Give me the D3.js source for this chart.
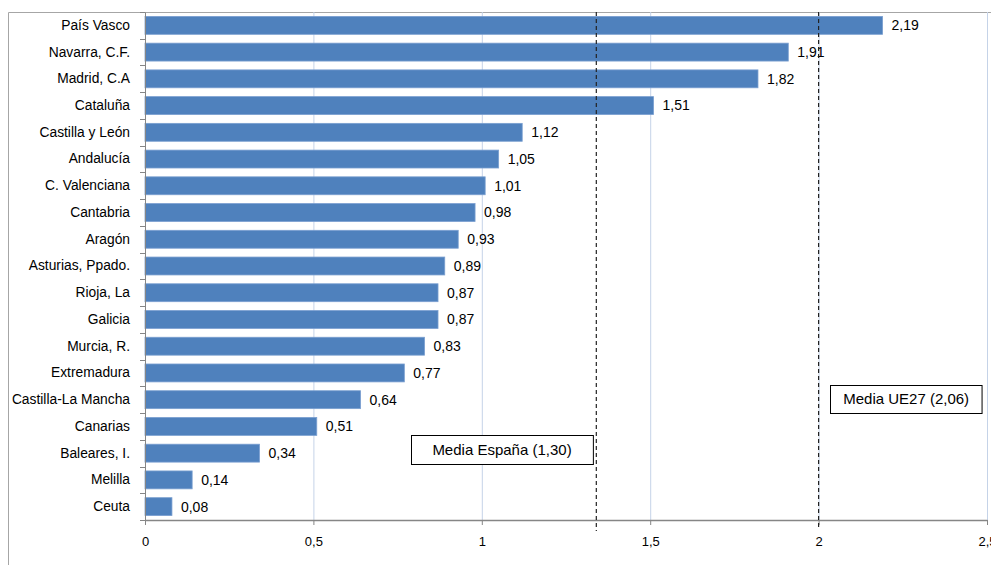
<!DOCTYPE html>
<html><head><meta charset="utf-8">
<script src="https://cdn.jsdelivr.net/npm/d3@7"></script>
<style>body{margin:0;background:#fff}svg{display:block}text{font-family:"Liberation Sans","DejaVu Sans",sans-serif}</style>
</head><body><svg id="c" width="991" height="565"></svg>
<script>
const categories = ["País Vasco","Navarra, C.F.","Madrid, C.A","Cataluña","Castilla y León","Andalucía","C. Valenciana","Cantabria","Aragón","Asturias, Ppado.","Rioja, La","Galicia","Murcia, R.","Extremadura","Castilla-La Mancha","Canarias","Baleares, I.","Melilla","Ceuta"];
const values = [2.19,1.91,1.82,1.51,1.12,1.05,1.01,0.98,0.93,0.89,0.87,0.87,0.83,0.77,0.64,0.51,0.34,0.14,0.08];
const xTicks = [0,0.5,1,1.5,2,2.5];
const refLines = [1.34, 2.0];
const refLabels = ["Media España (1,30)","Media UE27 (2,06)"];

const svg = d3.select("#c");
const m = {left:145, right:987, top:12, bottom:520};
const x = d3.scaleLinear().domain([0,2.5]).range([m.left, m.right]);
const y = d3.scaleBand().domain(categories).range([m.top, m.bottom]).paddingInner(0.33).paddingOuter(0.165);
const fmt = v => d3.format(".2f")(v).replace(".", ",");
const tfmt = v => String(v).replace(".", ",");

// outer chart border (top & left)
svg.append("path").attr("d", `M8.5,565 V12.5 H991`).attr("fill","none").attr("stroke","#a6a6a6").attr("stroke-width",1);

// gridlines
svg.append("g").selectAll("line").data(xTicks.filter(d=>d>0)).join("line")
  .attr("x1", d=>x(d)+0.5).attr("x2", d=>x(d)+0.5).attr("y1", m.top).attr("y2", m.bottom)
  .attr("stroke","#c5d3e8").attr("stroke-width",1);

// bars
svg.append("g").selectAll("rect").data(values).join("rect")
  .attr("x", x(0)).attr("y", (d,i)=>y(categories[i]))
  .attr("width", d=>x(d)-x(0)).attr("height", y.bandwidth())
  .attr("fill","#4f81bd").attr("stroke","#7a9fd0").attr("stroke-width",0.8);

// value labels
svg.append("g").selectAll("text").data(values).join("text")
  .attr("x", d=>x(d)+9).attr("y", (d,i)=>y(categories[i])+y.bandwidth()/2)
  .attr("dy","0.35em").attr("font-size",14).attr("fill","#000").text(d=>fmt(d));

// y axis
const ya = d3.axisLeft(y).tickSize(0).tickPadding(15);
const yg = svg.append("g").attr("transform",`translate(${m.left},0)`).call(ya);
yg.select(".domain").attr("stroke","#868686");
yg.selectAll("text").attr("font-size",13.8).attr("fill","#000");
// y tick marks at category boundaries
const bounds = d3.range(categories.length+1).map(i => m.top + i*(m.bottom-m.top)/categories.length);
svg.append("g").selectAll("line").data(bounds).join("line")
  .attr("x1", m.left-5).attr("x2", m.left).attr("y1", d=>Math.round(d)+0.5).attr("y2", d=>Math.round(d)+0.5)
  .attr("stroke","#868686");

// x axis
const xa = d3.axisBottom(x).tickValues(xTicks).tickFormat(tfmt).tickSizeInner(5).tickSizeOuter(0).tickPadding(12);
const xg = svg.append("g").attr("transform",`translate(0,${m.bottom})`).call(xa);
xg.select(".domain").attr("stroke","#868686").attr("stroke-width",1.5);
xg.selectAll(".tick line").attr("stroke","#868686");
xg.selectAll("text").attr("font-size",13).attr("fill","#000");

// reference dashed lines
svg.append("g").selectAll("line").data(refLines).join("line")
  .attr("x1", d=>x(d)).attr("x2", d=>x(d)).attr("y1", m.top).attr("y2", (d,i)=> i===0 ? 531 : 527)
  .attr("stroke","#222").attr("stroke-width",1.2).attr("stroke-dasharray","4,3");

// reference labels boxes
const boxes = [
  {x0: x(0.79), x1: x(1.33), y0: 435, y1: 464},
  {x0: x(2.035), x1: x(2.485), y0: 385, y1: 413}
];
const bg = svg.append("g").selectAll("g").data(refLabels).join("g");
bg.append("rect")
  .attr("x", (d,i)=>Math.round(boxes[i].x0)+0.5).attr("y", (d,i)=>boxes[i].y0+0.5)
  .attr("width", (d,i)=>boxes[i].x1-boxes[i].x0).attr("height",(d,i)=>boxes[i].y1-boxes[i].y0)
  .attr("fill","#fff").attr("stroke","#000").attr("stroke-width",1);
bg.append("text")
  .attr("x", (d,i)=>(boxes[i].x0+boxes[i].x1)/2).attr("y",(d,i)=>(boxes[i].y0+boxes[i].y1)/2)
  .attr("dy","0.35em").attr("text-anchor","middle").attr("font-size",15).attr("fill","#000").text(d=>d);
</script></body></html>
